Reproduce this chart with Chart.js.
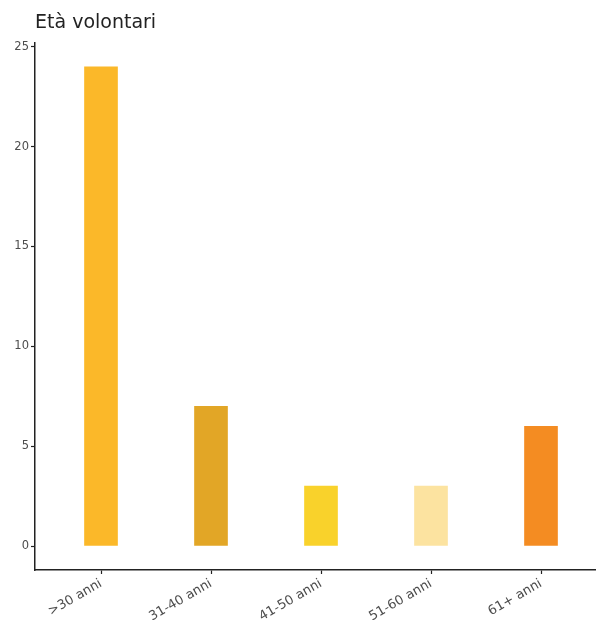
<!DOCTYPE html>
<html>
<head>
<meta charset="utf-8">
<script src="https://cdn.jsdelivr.net/npm/chart.js@4"></script>
<style>
  html, body { margin: 0; padding: 0; background: #fff; overflow: hidden; }
  canvas { display: block; }
</style>
</head>
<body>
<canvas id="chart" width="610" height="624"></canvas>
<script>
// Data
const ageGroups = ['>30 anni', '31-40 anni', '41-50 anni', '51-60 anni', '61+ anni'];
const volunteers = [24, 7, 3, 3, 6];
const barColors = ['#FBB829', '#E2A626', '#F9D22B', '#FCE3A0', '#F48C22'];
const yTicks = [0, 5, 10, 15, 20, 25];

const ink = '#222222';
const tickText = '#4d4d4d';
const font = 'DejaVu Sans';

new Chart(document.getElementById('chart').getContext('2d'), {
    type: 'bar',
    data: {
        datasets: [{
            data: volunteers.map((v, i) => ({ x: i + 1, y: v })),
            backgroundColor: barColors,
            borderWidth: 0,
            barThickness: 33
        }]
    },
    options: {
        responsive: false,
        animation: false,
        layout: { padding: { left: 7, right: 3, top: 0, bottom: 0 } },
        plugins: {
            legend: { display: false },
            tooltip: { enabled: false },
            title: {
                display: true,
                fullSize: false,
                text: 'Età volontari',
                align: 'start',
                color: ink,
                font: { family: font, size: 19, weight: 'normal' },
                padding: { top: 12, bottom: 8 }
            }
        },
        scales: {
            x: {
                type: 'linear',
                offset: false,
                min: 0.4,
                max: 5.6,
                afterBuildTicks: (scale) => {
                    scale.ticks = ageGroups.map((_, i) => ({ value: i + 1 }));
                },
                afterFit: (scale) => { scale.height = 54; },
                grid: { offset: false, drawOnChartArea: false, tickLength: 4, color: ink, tickWidth: 1.2 },
                border: { display: true, color: ink, width: 1.5 },
                ticks: {
                    autoSkip: false,
                    minRotation: 30,
                    maxRotation: 30,
                    padding: 2,
                    color: tickText,
                    font: { family: font, size: 13 },
                    callback: (v) => ageGroups[v - 1]
                }
            },
            y: {
                min: -1.2,
                max: 25.2,
                afterBuildTicks: (scale) => {
                    scale.ticks = yTicks.map(v => ({ value: v }));
                },
                afterFit: (scale) => { scale.width = 28; },
                grid: { drawOnChartArea: false, tickLength: 4, color: ink, tickWidth: 1.2 },
                border: { display: true, color: ink, width: 1.5 },
                ticks: {
                    padding: 2,
                    color: tickText,
                    font: { family: font, size: 11.5 }
                }
            }
        }
    }
});
</script>
</body>
</html>
